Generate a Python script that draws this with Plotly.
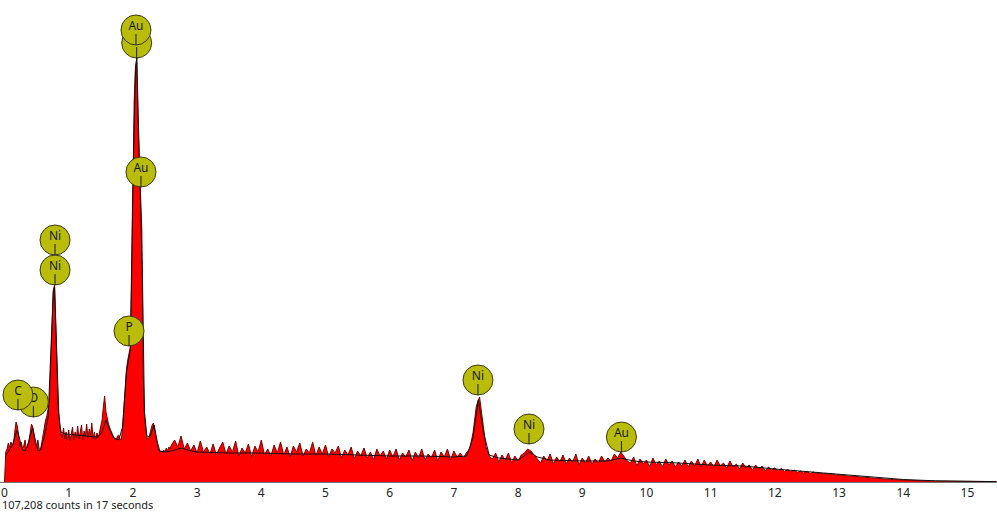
import numpy as np
import plotly.graph_objects as go

# ---------------- data ----------------
# measured spectrum, low-energy part: 0.00 .. 2.60 keV, 0.02 keV channels
low_energy = np.round(np.arange(0.0, 2.6001, 0.02), 2)
low_counts = [
    0, 30, 33, 39, 34, 40, 36, 38, 50, 60,
    56, 44, 35, 40, 34, 36, 42, 33, 38, 41,
    49, 58, 55, 45, 38, 34, 42, 33, 32, 39,
    48, 57, 62, 66, 72, 80, 115, 160, 192, 197,
    150, 105, 78, 55, 50, 44, 54, 43, 50, 42,
    52, 41, 48, 55, 42, 50, 44, 56, 43, 49,
    57, 42, 51, 46, 58, 44, 53, 47, 59, 43,
    50, 42, 49, 44, 51, 55, 62, 75, 86, 70,
    62, 58, 54, 50, 48, 45, 43, 42, 46, 47,
    43, 42, 55, 75, 97, 113, 122, 128, 135, 200,
    320, 380, 415, 424, 360, 320, 290, 250, 110, 68,
    52, 44, 42, 46, 52, 57, 59, 52, 45, 38,
    32, 30, 31, 29, 32, 30, 34, 31, 35, 33,
    37,
]

# measured spectrum, high-energy part: 2.65 .. 15.45 keV, 0.05 keV channels
high_energy = np.round(np.arange(2.65, 15.4501, 0.05), 2)
high_counts = [
    42, 35, 46, 33, 39, 31, 37, 29, 41, 30, 35, 28, 38, 27, 34, 40, 28, 36, 30, 41,
    26, 34, 29, 38, 25, 36, 30, 42, 27, 33, 26, 37, 29, 40, 27, 35, 25, 36, 30, 39,
    26, 33, 29, 40, 26, 35, 28, 37, 25, 33, 29, 36, 24, 32, 27, 35, 23, 31, 26, 34,
    24, 30, 22, 33, 26, 31, 23, 32, 25, 33, 22, 29, 25, 32, 21, 30, 24, 33, 22, 28,
    24, 32, 21, 30, 25, 33, 22, 31, 25, 29, 24, 30, 33, 50, 76, 85, 60, 35, 26, 23,
    29, 20, 27, 22, 29, 19, 26, 21, 27, 29, 33, 31, 27, 23, 19, 26, 21, 28, 18, 25,
    20, 27, 18, 24, 20, 28, 17, 24, 19, 26, 18, 23, 19, 26, 20, 24, 21, 28, 24, 30,
    25, 21, 19, 25, 16, 23, 18, 22, 15, 24, 17, 21, 15, 23, 17, 21, 15, 20, 16, 22,
    15, 21, 16, 23, 15, 22, 16, 20, 15, 22, 16, 19, 14, 21, 15, 18, 13, 19, 14, 17,
    12, 17, 13, 16, 11, 15, 12, 14, 11, 13.5, 10.5, 12.5, 10, 12, 9.5, 11, 9, 10.5, 8.5, 10,
    8.5, 9, 8, 8.5, 7.5, 7.8, 7, 7.2, 6.5, 6.6, 6, 6, 5.4, 5.5, 4.9, 4.8, 4.3, 4.2, 3.8, 3.6,
    3.2, 3.1, 2.8, 2.6, 2.4, 2.2, 2.0, 1.9, 1.7, 1.6, 1.4, 1.3, 1.2, 1.1, 1.0, 0.9, 0.85, 0.8, 0.75, 0.7,
    0.65, 0.6, 0.55, 0.5, 0.5, 0.45, 0.45, 0.4, 0.4, 0.4, 0.35, 0.35, 0.35, 0.3, 0.3, 0.3, 0.3,
]
assert len(low_counts) == len(low_energy)
assert len(high_counts) == len(high_energy)

# fitted spectrum (smooth black line)
fit_energy = [0.02, 0.08, 0.12, 0.16, 0.20, 0.24, 0.28, 0.32, 0.36, 0.40, 0.44, 0.48,
              0.52, 0.56, 0.62, 0.68, 0.72, 0.76, 0.78, 0.80, 0.84, 0.88, 0.95, 1.10,
              1.30, 1.45, 1.52, 1.58, 1.64, 1.70, 1.78, 1.84, 1.90, 1.96, 2.00, 2.04,
              2.06, 2.08, 2.12, 2.15, 2.18, 2.22, 2.27, 2.33, 2.38, 2.42, 2.50, 2.60,
              2.70, 2.76, 2.85, 3.0, 3.5, 4.0, 4.5, 5.0, 5.5, 6.0, 6.5, 7.0, 7.2, 7.3,
              7.38, 7.46, 7.55, 7.7, 8.0, 8.1, 8.18, 8.3, 8.5, 9.0, 9.4, 9.6, 9.8, 10.0,
              10.5, 11.0, 11.5, 12.0, 12.5, 13.0, 13.5, 14.0, 14.5, 15.0, 15.45]
fit_counts = [27, 32, 36, 45, 52, 42, 32, 31, 36, 46, 54, 42,
              31, 32, 45, 65, 120, 190, 195, 150, 70, 50, 48, 47,
              46, 45, 50, 62, 52, 44, 42, 55, 110, 132, 300, 410,
              424, 370, 290, 200, 70, 45, 46, 57, 40, 31, 30, 31,
              33, 34, 32, 30, 29, 29, 28, 28, 27, 26, 26, 25, 26, 45,
              82, 50, 27, 24, 22, 26, 30, 25, 22, 21, 21, 24, 21, 20,
              19, 17, 16, 13, 10.5, 8, 5, 2.5, 1.2, 0.6, 0.4]

# element markers: drawing order, energy (keV), marker height (counts)
label_names = ["O", "C", "Ni", "Ni", "P", "Au", "Au", "Au", "Ni", "Ni", "Au"]
label_energy = [0.45, 0.21, 0.787, 0.787, 1.94, 2.126, 2.059, 2.048, 7.375, 8.17, 9.61]
label_height = [80, 87, 212, 242, 151, 310, 439, 452, 102, 53, 45]

tick_vals = list(range(0, 16))
tick_text = [str(v) for v in tick_vals]
caption = "107,208 counts in 17 seconds"

# ---------------- figure ----------------
energy = list(low_energy) + list(high_energy)
counts = low_counts + high_counts

fig = go.Figure()
fig.add_trace(go.Scatter(
    x=energy, y=counts, mode="lines", fill="tozeroy",
    fillcolor="#ff0000", line=dict(color="#800000", width=1),
    hoverinfo="skip", showlegend=False))
fig.add_trace(go.Scatter(
    x=fit_energy, y=fit_counts, mode="lines",
    line=dict(color="#111111", width=1),
    hoverinfo="skip", showlegend=False))

R = 15  # marker radius (px == counts units)
for name, e, h in zip(label_names, label_energy, label_height):
    fig.add_trace(go.Scatter(
        x=[e], y=[h], mode="markers",
        marker=dict(size=2 * R, color="#b9bc08",
                    line=dict(color="#3b3b10", width=1)),
        hoverinfo="skip", showlegend=False))
    fig.add_trace(go.Scatter(
        x=[e], y=[h + 3], mode="text", text=[name],
        textposition="middle center",
        textfont=dict(family="Noto Sans, Open Sans, sans-serif", size=12, color="#1a1a1a"),
        hoverinfo="skip", showlegend=False))
    fig.add_trace(go.Scatter(
        x=[e, e], y=[h - 4, h - R], mode="lines",
        line=dict(color="#1a1a1a", width=1),
        hoverinfo="skip", showlegend=False))

fig.update_layout(
    width=997, height=512,
    margin=dict(l=0, r=0, t=0, b=30),
    paper_bgcolor="white", plot_bgcolor="white",
    font=dict(family="Noto Sans, Open Sans, sans-serif", size=12, color="#222222"),
    xaxis=dict(range=[-0.070, 15.46], tickvals=tick_vals, ticktext=tick_text,
               showgrid=False, zeroline=False, showline=True,
               linecolor="#777777", linewidth=1, ticks="",
               tickfont=dict(size=12, color="#222222")),
    yaxis=dict(range=[0, 482], visible=False, showgrid=False, zeroline=False),
    annotations=[dict(text=caption, xref="paper", yref="paper",
                      x=0, y=0, xanchor="left", yanchor="middle",
                      yshift=-22, showarrow=False,
                      font=dict(size=11, color="#222222"))],
)

fig.write_html("out.html", config={"displayModeBar": False, "staticPlot": True},
               post_script="document.body.style.margin='0';document.body.style.overflow='hidden';")
